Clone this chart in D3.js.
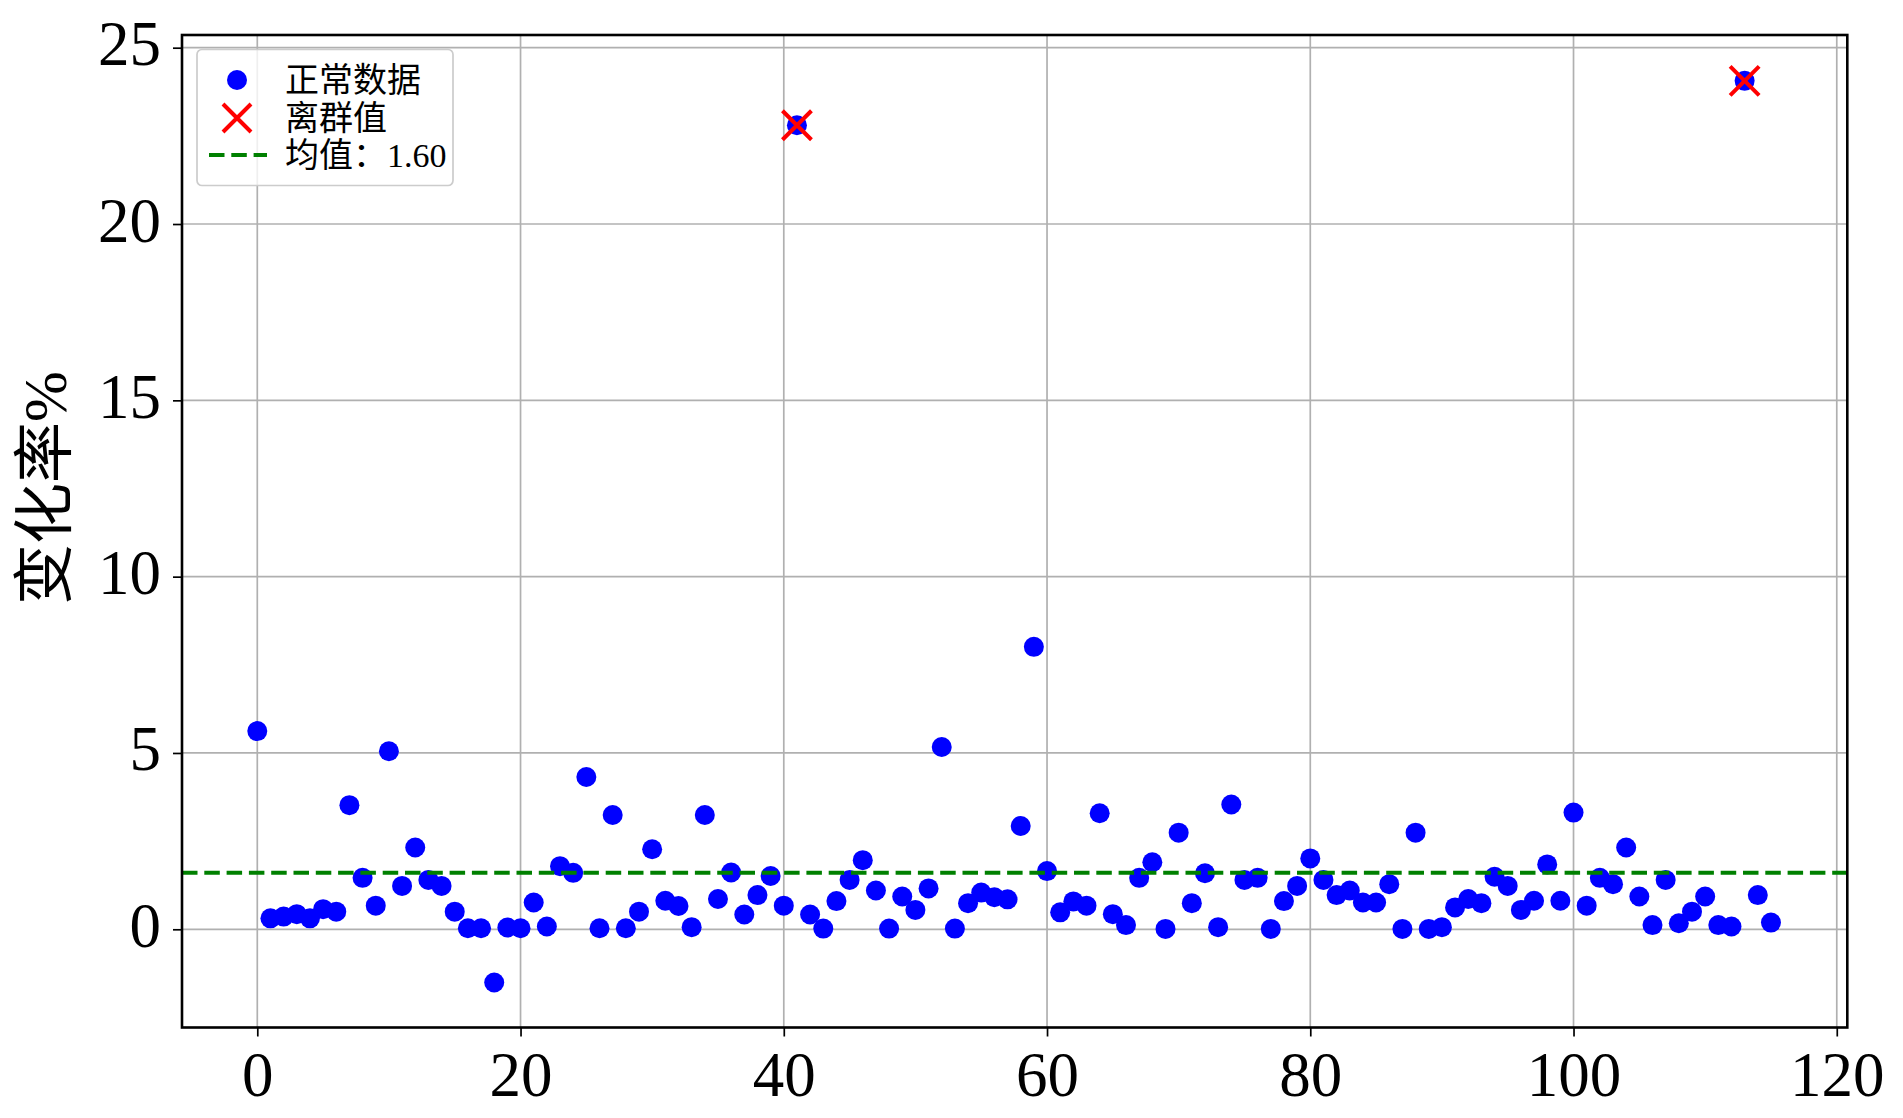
<!DOCTYPE html>
<html>
<head>
<meta charset="utf-8">
<script src="https://cdn.jsdelivr.net/npm/d3@7/dist/d3.min.js"></script>
<style>
  html, body { margin: 0; padding: 0; background: #ffffff; }
  svg { display: block; }
  text { font-family: "Times New Roman", "Liberation Serif", "Noto Sans CJK SC", serif; fill: #000; }
</style>
</head>
<body>
<svg id="chart" width="1903" height="1118"></svg>
<script>
// ---- data ----
const changeRates = [
  5.62, 0.31, 0.36, 0.43, 0.31, 0.57, 0.50, 3.52, 1.46, 0.67,
  5.05, 1.23, 2.32, 1.40, 1.23, 0.50, 0.03, 0.03, -1.51, 0.05,
  0.03, 0.76, 0.08, 1.79, 1.60, 4.32, 0.03, 3.24, 0.03, 0.50,
  2.27, 0.81, 0.66, 0.06, 3.24, 0.86, 1.61, 0.42, 0.97, 1.51,
  0.67, 22.80, 0.42, 0.02, 0.80, 1.40, 1.96, 1.10, 0.02, 0.93,
  0.55, 1.16, 5.17, 0.02, 0.74, 1.04, 0.91, 0.85, 2.93, 8.01,
  1.65, 0.48, 0.79, 0.67, 3.29, 0.43, 0.12, 1.46, 1.90, 0.01,
  2.74, 0.74, 1.59, 0.06, 3.54, 1.40, 1.46, 0.01, 0.80, 1.23,
  2.01, 1.40, 0.97, 1.10, 0.76, 0.76, 1.28, 0.01, 2.74, 0.01,
  0.06, 0.62, 0.86, 0.74, 1.49, 1.23, 0.55, 0.81, 1.84, 0.81,
  3.31, 0.67, 1.46, 1.28, 2.32, 0.93, 0.12, 1.40, 0.17, 0.50,
  0.93, 0.12, 0.08, 24.06, 0.97, 0.19
];
const outlierIndices = [41, 113];
const meanValue = 1.60;
const xTicks = [0, 20, 40, 60, 80, 100, 120];
const yTicks = [0, 5, 10, 15, 20, 25];
const legendLabels = ["正常数据", "离群值", "均值：1.60"];
const yAxisLabel = "变化率%";

// ---- layout ----
const svg = d3.select("#chart");
const L = 182, R = 1847.3, T = 35, B = 1027.5;

const x = d3.scaleLinear().domain([-5.72, 120.8]).range([L, R]);
const y = d3.scaleLinear().domain([-2.785, 25.36]).range([B, T]);

svg.append("rect").attr("width", 1903).attr("height", 1118).attr("fill", "#fff");

// grid
const grid = svg.append("g");
grid.selectAll(".gx").data(xTicks).enter().append("line")
  .attr("x1", d => x(d)).attr("x2", d => x(d)).attr("y1", T).attr("y2", B)
  .attr("stroke", "#b0b0b0").attr("stroke-width", 1.7);
grid.selectAll(".gy").data(yTicks).enter().append("line")
  .attr("x1", L).attr("x2", R).attr("y1", d => y(d)).attr("y2", d => y(d))
  .attr("stroke", "#b0b0b0").attr("stroke-width", 1.7);

// axes
const xAxis = d3.axisBottom(x).tickValues(xTicks).tickSize(9).tickPadding(14).tickFormat(d3.format("d"));
const gx = svg.append("g").attr("transform", `translate(0,${B})`).call(xAxis);
gx.select(".domain").remove();
gx.selectAll(".tick line").attr("stroke", "#000").attr("stroke-width", 1.7);
gx.selectAll(".tick text").attr("font-size", 63).attr("dy", null).attr("y", 68)
  .style("font-family", '"Times New Roman", "Liberation Serif", serif');

const yAxis = d3.axisLeft(y).tickValues(yTicks).tickSize(9).tickPadding(14).tickFormat(d3.format("d"));
const gy = svg.append("g").attr("transform", `translate(${L},0)`).call(yAxis);
gy.select(".domain").remove();
gy.selectAll(".tick line").attr("stroke", "#000").attr("stroke-width", 1.7);
gy.selectAll(".tick text").attr("font-size", 63).attr("dy", null).attr("y", 17).attr("x", -21)
  .style("font-family", '"Times New Roman", "Liberation Serif", serif');

// points
const idx = d3.range(changeRates.length);
svg.append("g").selectAll("circle").data(idx).enter().append("circle")
  .attr("cx", i => x(i)).attr("cy", i => y(changeRates[i])).attr("r", 10)
  .attr("fill", "#0000ff");

// outliers (red x)
const xs = 14.5;
const og = svg.append("g");
outlierIndices.forEach(i => {
  const cx = x(i), cy = y(changeRates[i]);
  og.append("path")
    .attr("d", `M${cx - xs},${cy - xs}L${cx + xs},${cy + xs}M${cx - xs},${cy + xs}L${cx + xs},${cy - xs}`)
    .attr("stroke", "#ff0000").attr("stroke-width", 4).attr("fill", "none");
});

// mean line
svg.append("line")
  .attr("x1", L).attr("x2", R).attr("y1", y(meanValue)).attr("y2", y(meanValue))
  .attr("stroke", "#008000").attr("stroke-width", 4).attr("stroke-dasharray", "15.5,6.8");

// frame
svg.append("rect").attr("x", L).attr("y", T).attr("width", R - L).attr("height", B - T)
  .attr("fill", "none").attr("stroke", "#000").attr("stroke-width", 2.6);

// legend
const lg = svg.append("g");
lg.append("rect").attr("x", 197).attr("y", 49.5).attr("width", 256).attr("height", 136)
  .attr("rx", 5).attr("fill", "#ffffff").attr("fill-opacity", 0.8)
  .attr("stroke", "#cccccc").attr("stroke-width", 1.7);
const rowY = [80, 118, 155];
lg.append("circle").attr("cx", 237).attr("cy", rowY[0]).attr("r", 10).attr("fill", "#0000ff");
lg.append("path")
  .attr("d", `M${237 - 14},${rowY[1] - 14}L${237 + 14},${rowY[1] + 14}M${237 - 14},${rowY[1] + 14}L${237 + 14},${rowY[1] - 14}`)
  .attr("stroke", "#ff0000").attr("stroke-width", 4);
lg.append("line").attr("x1", 209).attr("x2", 267).attr("y1", rowY[2]).attr("y2", rowY[2])
  .attr("stroke", "#008000").attr("stroke-width", 4).attr("stroke-dasharray", "15.5,6.8");
lg.selectAll("text.lt").data(legendLabels).enter().append("text")
  .attr("x", 285).attr("y", (d, i) => rowY[i] + 12)
  .attr("font-size", 34).text(d => d);

// y label
svg.append("text")
  .attr("transform", "translate(66,488) rotate(-90)")
  .attr("text-anchor", "middle").attr("font-size", 61)
  .text(yAxisLabel);
</script>
</body>
</html>
